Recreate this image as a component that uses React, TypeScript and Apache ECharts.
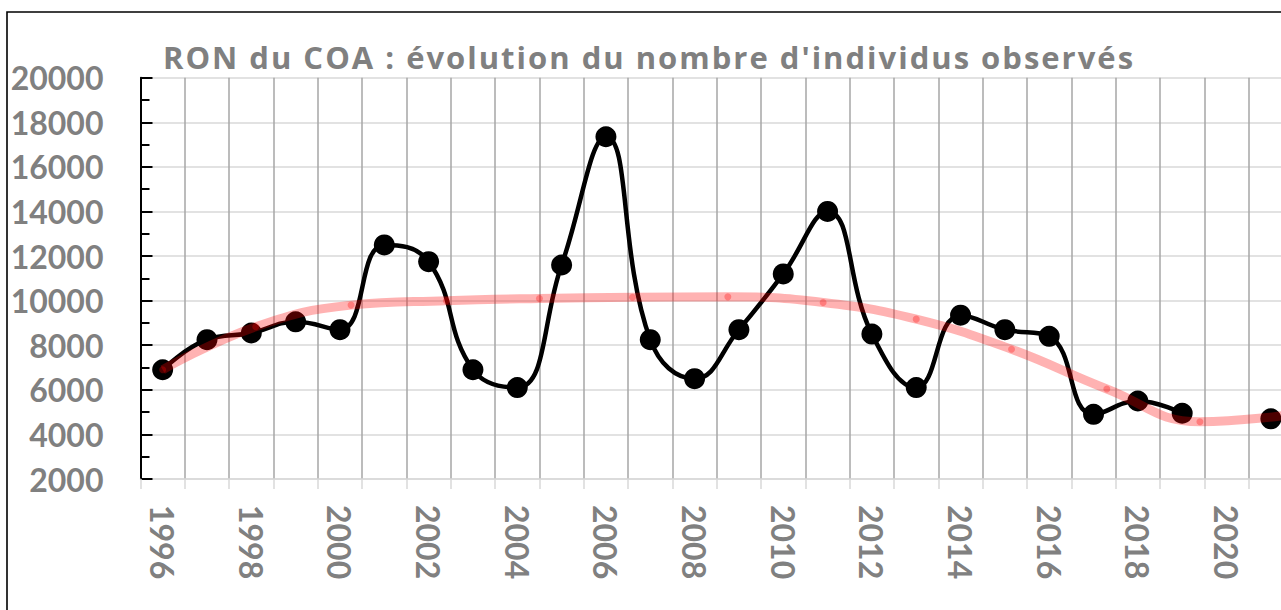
import React, { useEffect, useRef } from "react";
import * as echarts from "echarts";

const years = ["1996","1997","1998","1999","2000","2001","2002","2003","2004","2005","2006","2007","2008","2009","2010","2011","2012","2013","2014","2015","2016","2017","2018","2019","2020","2021"];
const observed: (number | null)[] = [6900, 8250, 8550, 9050, 8700, 12500, 11750, 6900, 6100, 11600, 17350, 8250, 6500, 8700, 11200, 14000, 8500, 6100, 9350, 8700, 8400, 4900, 5500, 4950, null, 4700];
const trendYears = [1996, 1998.1, 2000.25, 2002.4, 2004.5, 2006.6, 2008.75, 2010.9, 2013, 2015.15, 2017.3, 2019.4, 2021.5];
const trendValues = [6900, 8830, 9800, 10000, 10100, 10150, 10170, 9920, 9170, 7820, 6040, 4570, 4900];
const title = "RON du COA : évolution du nombre d'individus observés";

const FONT = "Lato";
const TITLE_FONT = "'Open Sans'";
const GREY = "#808080";

export default function App() {
  const ref = useRef<HTMLDivElement>(null);
  useEffect(() => {
    if (!ref.current) return;
    const chart = echarts.init(ref.current, null, { renderer: "svg" });
    chart.setOption({
      animation: false,
      backgroundColor: "#ffffff",
      grid: { left: 140.5, top: 77.7, width: 1152.5, height: 401.3, containLabel: false },
      graphic: [
        {
          type: "rect",
          shape: { x: 7, y: 12, width: 1320, height: 700 },
          style: { fill: "none", stroke: "#000", lineWidth: 1.6 },
          silent: true,
        },
        {
          type: "text",
          x: 649,
          y: 57,
          style: {
            text: title,
            fill: GREY,
            font: `bold 31px ${TITLE_FONT}`,
            textAlign: "center",
            textVerticalAlign: "middle",
          },
        },
      ],
      xAxis: [
        {
          type: "category",
          data: years,
          boundaryGap: true,
          axisLine: { show: true, lineStyle: { color: "#d9d9d9", width: 1.5 } },
          axisTick: { show: true, interval: 0, length: 10, lineStyle: { color: "#d9d9d9", width: 1.5 } },
          axisLabel: {
            interval: 1,
            rotate: -90,
            margin: 26,
            fontSize: 32,
            fontWeight: "bold",
            fontFamily: FONT,
            color: GREY,
          },
          splitLine: { show: true, interval: 0, lineStyle: { color: "#a6a6a6", width: 1.5 } },
        },
        {
          type: "value",
          min: 1995.5,
          max: 2021.5,
          show: false,
        },
      ],
      yAxis: {
        type: "value",
        min: 2000,
        max: 20000,
        interval: 2000,
        axisLine: { show: true, lineStyle: { color: "#000", width: 2 } },
        axisTick: { show: true, inside: true, length: 12, lineStyle: { color: "#000", width: 2 } },
        minorTick: { show: true, splitNumber: 2, length: 9, lineStyle: { color: "#000", width: 2 } },
        axisLabel: {
          margin: 37,
          fontSize: 32,
          fontWeight: "bold",
          fontFamily: FONT,
          color: GREY,
          formatter: (v: number) => String(v),
        },
        splitLine: { show: true, lineStyle: { color: "#d9d9d9", width: 1.5 } },
      },
      series: [
        {
          type: "line",
          data: observed,
          xAxisIndex: 0,
          smooth: 0.45,
          connectNulls: false,
          symbol: "circle",
          symbolSize: 21,
          lineStyle: { color: "#000", width: 4.5 },
          itemStyle: { color: "#000" },
          z: 2,
        },
        {
          type: "line",
          data: trendYears.map((y, i) => [y, trendValues[i]]),
          xAxisIndex: 1,
          smooth: 0.45,
          symbol: "circle",
          symbolSize: 7,
          lineStyle: { color: "rgba(255,0,0,0.3)", width: 9 },
          itemStyle: { color: "rgba(255,0,0,0.3)" },
          z: 3,
        },
      ],
    });
    const texts = ref.current.querySelectorAll("text");
    texts.forEach((t) => {
      if (t.textContent === title) {
        t.setAttribute("letter-spacing", "2");
      }
    });
    return () => chart.dispose();
  }, []);
  return (
    <div style={{ position: "fixed", left: 0, top: 0, width: 1281, height: 610, overflow: "hidden", background: "#fff" }}>
      <div ref={ref} style={{ width: 1310, height: 610 }} />
    </div>
  );
}
